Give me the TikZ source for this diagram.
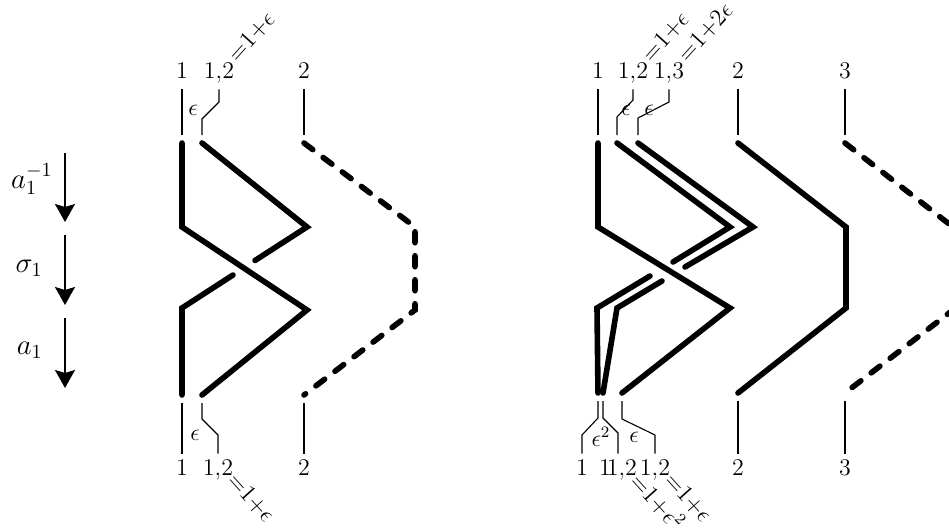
\documentclass[tikz,border=0pt]{standalone}
\usetikzlibrary{arrows.meta,calc}
\tikzset{
  every node/.style={font=\large},
  strand/.style={line width=2.8pt,line cap=round},
  dstrand/.style={strand,dash pattern=on 5.5pt off 6.5pt},
  lead/.style={line width=0.55pt},
  lbl/.style={inner sep=3pt,text height=7.7pt,text depth=2.3pt},
  eqlbl/.style={inner sep=0.5pt,anchor=west},
  eps/.style={inner sep=1pt},
  move/.style={line width=1pt,-{Stealth[length=9pt,width=10pt,inset=1.5pt]}},
  gen/.style={font=\Large,anchor=east,inner sep=1pt},
}
\newcommand{\eqone}[1]{$\mathord{=}1\mathord{+}#1$}

\begin{document}
\begin{tikzpicture}[x=0.5pt,y=-0.5pt]
\useasboundingbox (0,0) rectangle (949,530);
\clip (0,0) rectangle (949,530);

% generators
\coordinate (m0) at (65,153); \coordinate (m1) at (65,222);
\coordinate (m2) at (65,235); \coordinate (m3) at (65,305);
\coordinate (m4) at (65,318); \coordinate (m5) at (65,388);
\draw[move] (m0) -- (m1);
\draw[move] (m2) -- (m3);
\draw[move] (m4) -- (m5);
\node[gen] (ainv) at (55,179) {$a_1^{-1}$};
\node[gen] (sig) at (45,268) {$\sigma_1$};
\node[gen] (aone) at (45,350) {$a_1$};

% left braid: strand ends
\coordinate (La1) at (182,143); \coordinate (La2) at (202,143); \coordinate (La3) at (304,143);
\coordinate (Lb1) at (182,395); \coordinate (Lb2) at (202,395); \coordinate (Lb3) at (304,395);

\draw[strand] (La1) -- (182,227) -- (307,310) -- (Lb2);
\draw[strand] (La2) -- (307,227) -- (255,260.5);
\draw[strand] (233,275) -- (182,308) -- (Lb1);
\draw[dstrand] (La3) -- (415,227) -- (415,310) -- (Lb3);

% left labels, top
\node[lbl] (p1) at (182,73) {$1$};
\node[lbl] (p12) at (219,73) {$1{,}2$};
\node[lbl] (p2) at (304,73) {$2$};
\node[eqlbl,rotate=48] at ($(p12.north east)+(-9,3)$) {\eqone{\epsilon}};
\draw[lead] (p1.south) -- ($(La1)+(0,-8)$);
\draw[lead] (p12.south) -- (219,102) -- (202,119) -- ($(La2)+(0,-8)$);
\draw[lead] (p2.south) -- ($(La3)+(0,-8)$);
\node[eps] (pe) at (193,110) {$\epsilon$};

% left labels, bottom
\node[lbl] (q1) at (182,470) {$1$};
\node[lbl] (q12) at (218,470) {$1{,}2$};
\node[lbl] (q2) at (304,470) {$2$};
\node[eqlbl,rotate=-48] at ($(q12.south east)+(-9,-11)$) {\eqone{\epsilon}};
\draw[lead] ($(Lb1)+(0,8)$) -- (q1.north);
\draw[lead] ($(Lb2)+(0,8)$) -- (202,419) -- (218,435) -- (q12.north);
\draw[lead] ($(Lb3)+(0,8)$) -- (q2.north);
\node[eps] (qe) at (195,435) {$\epsilon$};

% right braid: strand ends
\coordinate (Ra1) at (598,143); \coordinate (Ra2) at (617,143); \coordinate (Ra3) at (638,143);
\coordinate (Ra4) at (738,143); \coordinate (Ra5) at (845,143);
\coordinate (Rb1) at (598,393); \coordinate (Rb2) at (603,393); \coordinate (Rb3) at (622,393);
\coordinate (Rb4) at (738,393); \coordinate (Rb5) at (845,393);

\draw[strand] (Ra1) -- (598,227) -- (730,308) -- (Rb3);
\draw[strand] (Ra2) -- (730,227) -- (673,262);
\draw[strand] (650,276) -- (597,308) -- (Rb1);
\draw[strand] (Ra3) -- (753,227) -- (685,267);
\draw[strand] (662,281) -- (617,308) -- (Rb2);
\draw[strand] (Ra4) -- (846,227) -- (846,308) -- (Rb4);
\draw[dstrand] (Ra5) -- (953,227) -- (953,310) -- (Rb5);

% right labels, top
\node[lbl] (r1) at (598,73) {$1$};
\node[lbl] (r12) at (633,73) {$1{,}2$};
\node[lbl] (r13) at (669,73) {$1{,}3$};
\node[lbl] (r2) at (738,73) {$2$};
\node[lbl] (r3) at (845,73) {$3$};
\node[eqlbl,rotate=48] at ($(r12.north east)+(-9,3)$) {\eqone{\epsilon}};
\node[eqlbl,rotate=48] at ($(r13.north east)+(-9,3)$) {\eqone{2\epsilon}};
\draw[lead] (r1.south) -- ($(Ra1)+(0,-8)$);
\draw[lead] (r12.south) -- (633,100) -- (617,117) -- ($(Ra2)+(0,-8)$);
\draw[lead] (r13.south) -- (669,102) -- (638,118) -- ($(Ra3)+(0,-8)$);
\draw[lead] (r2.south) -- ($(Ra4)+(0,-8)$);
\draw[lead] (r3.south) -- ($(Ra5)+(0,-8)$);
\node[eps] (re1) at (626,110) {$\epsilon$};
\node[eps] (re2) at (649,110) {$\epsilon$};

% right labels, bottom
\node[lbl] (s1) at (582,470) {$1$};
\node[lbl] (s12) at (618,470) {$1\mkern-3mu1{,}2$};
\node[lbl] (s13) at (655,470) {$1{,}2$};
\node[lbl] (s2) at (738,470) {$2$};
\node[lbl] (s3) at (845,470) {$3$};
\node[eqlbl,rotate=-48] at ($(s12.south east)+(-9,-11)$) {\eqone{\epsilon^2}};
\node[eqlbl,rotate=-48] at ($(s13.south east)+(-9,-11)$) {\eqone{\epsilon}};
\draw[lead] ($(Rb1)+(0,8)$) -- (598,418) -- (582,435) -- (s1.north);
\draw[lead] ($(Rb2)+(0,8)$) -- (603,418) -- (618,433) -- (s12.north);
\draw[lead] ($(Rb3)+(0,8)$) -- (622,419) -- (655,435) -- (s13.north);
\draw[lead] ($(Rb4)+(0,8)$) -- (s2.north);
\draw[lead] ($(Rb5)+(0,8)$) -- (s3.north);
\node[eps] (se1) at (601,437) {$\epsilon^2$};
\node[eps] (se2) at (634,437) {$\epsilon$};

\end{tikzpicture}
\end{document}
